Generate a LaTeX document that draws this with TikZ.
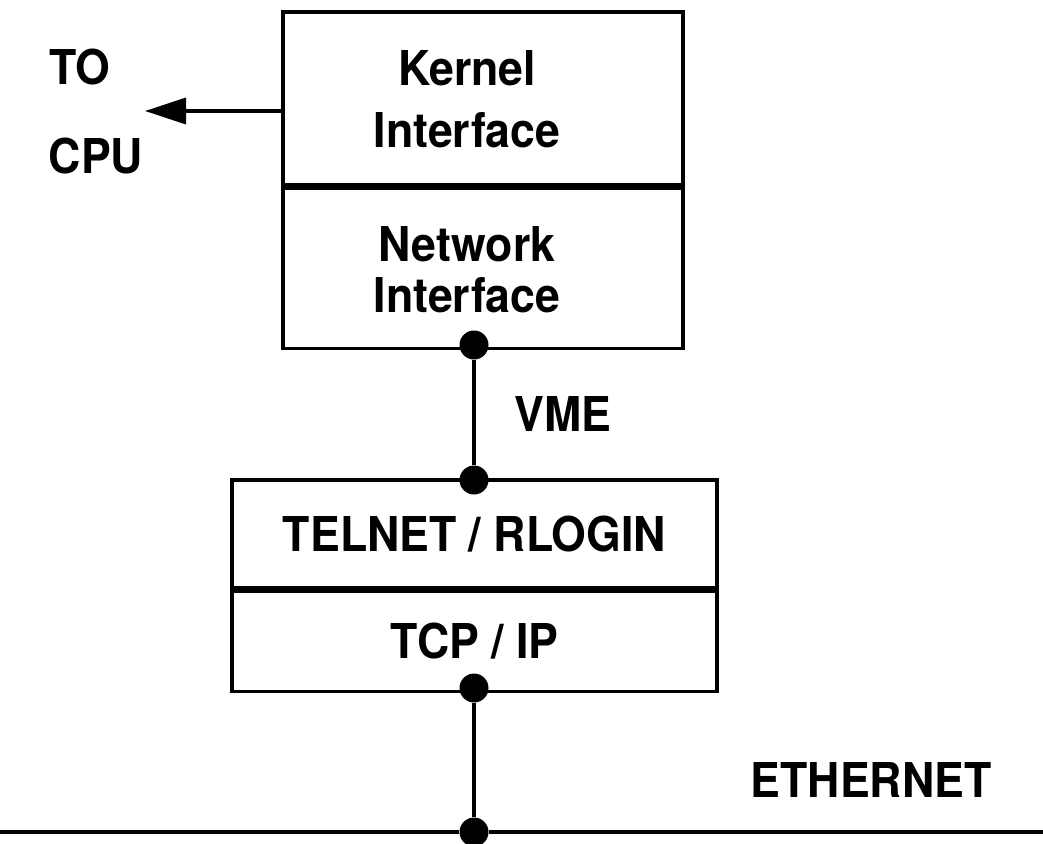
\documentclass[tikz,border=0pt]{standalone}
\usepackage{fontspec}
\setmainfont[FakeStretch=0.93]{TeX Gyre Heros}
\usetikzlibrary{arrows.meta}
\begin{document}
\begin{tikzpicture}[x=1pt,y=1pt,
  every node/.style={font=\fontsize{48}{53}\selectfont\bfseries},
  block/.style={draw,line width=3.5pt,inner sep=0pt,align=center},
  joint/.style={circle,fill=black,inner sep=0pt,minimum size=29pt},
  wire/.style={line width=3.5pt},
  lbl/.style={inner sep=0pt,align=center}]
\useasboundingbox (0,0) rectangle (1043,-843);
% host board
\node[block,minimum width=400pt,minimum height=173pt] (kernel) at (483,-98.5) {};
\node[block,minimum width=400pt,minimum height=160pt,anchor=north] (netif) at (kernel.south) {};
\node[lbl,font=\fontsize{48}{62}\selectfont\bfseries] (kerneltxt) at (467,-99.5) {Kernel\\Interface};
\node[lbl,font=\fontsize{48}{51}\selectfont\bfseries] (netiftxt) at (467,-270) {Network\\Interface};
% network processor board
\node[block,minimum width=485pt,minimum height=108pt] (telnet) at (474.5,-534) {TELNET / RLOGIN};
\node[block,minimum width=485pt,minimum height=100pt,anchor=north] (tcpip) at (telnet.south) {TCP / IP};
% connection points
\node[joint] (j1) at (474,-345) {};
\node[joint] (j2) at (474,-480) {};
\node[joint] (j3) at (474,-688) {};
\node[joint] (j4) at (474,-832) {};
\draw[wire] (j1) -- (j2);
\draw[wire] (j3) -- (j4);
% ethernet cable
\coordinate (ethL) at (0,-832);
\coordinate (ethR) at (1043,-832);
\draw[wire] (ethL) -- (j4) -- (ethR);
% link to the CPU
\coordinate (cpuend) at (145,-111);
\draw[wire,-{Triangle[length=41pt,width=26pt]}] (kernel.west |- cpuend) -- (cpuend);
\node[lbl] (to) at (80,-67) {TO};
\node[lbl] (cpu) at (96,-156) {CPU};
\node[lbl] (vme) at (563,-414) {VME};
\node[lbl] (eth) at (871,-780) {ETHERNET};
\end{tikzpicture}
\end{document}
